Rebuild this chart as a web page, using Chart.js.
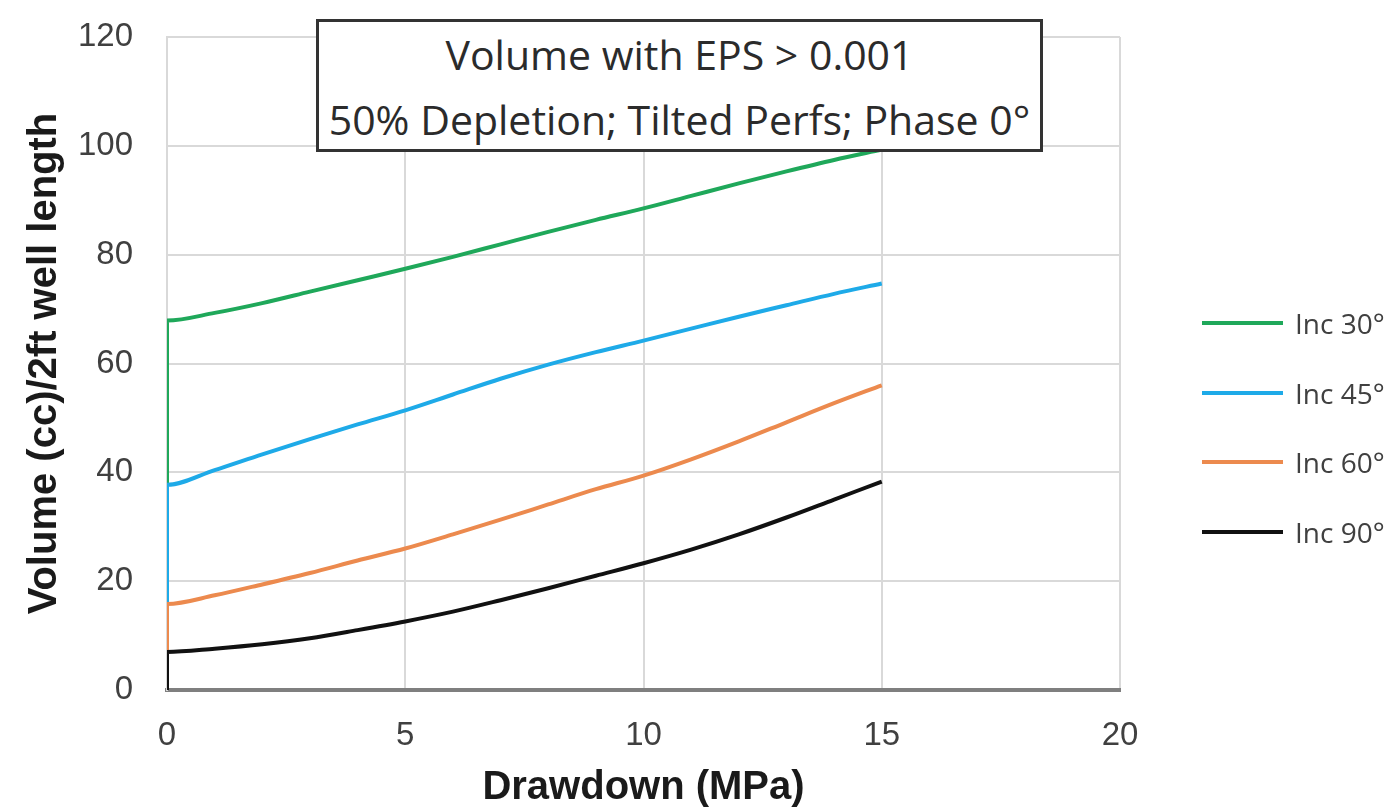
<!DOCTYPE html>
<html>
<head>
<meta charset="utf-8">
<title>Volume with EPS &gt; 0.001</title>
<script src="https://cdn.jsdelivr.net/npm/chart.js@4.4.1/dist/chart.umd.min.js"></script>
<style>
    body { margin: 0; background: #fff; }
    #wrap { position: relative; width: 1399px; height: 810px; }
    #titleBox {
        position: absolute; left: 316px; top: 19px; width: 727px; height: 133px;
        box-sizing: border-box; border: 3px solid #333; background: #fff;
        font-family: "Open Sans", sans-serif; font-size: 41px; color: #2b2b2b;
        text-align: center; line-height: 65px;
    }
    #legend { position: absolute; left: 1202px; top: 288px; }
    .item { display: flex; align-items: center; height: 69.7px; }
    .swatch { width: 81px; height: 4px; margin-right: 12px; }
    .label { font-family: "Open Sans", sans-serif; font-size: 28px; color: #404040; line-height: 1; }
</style>
</head>
<body>
<div id="wrap">
    <canvas id="volumeChart" width="1399" height="810"></canvas>
    <div id="titleBox">
        <div>Volume with EPS &gt; 0.001</div>
        <div>50% Depletion; Tilted Perfs; Phase 0°</div>
    </div>
    <div id="legend"></div>
</div>
<script>
"use strict";

// drawdown (MPa); every curve starts from the origin, hence the doubled 0
const drawdown = [0, 0, 1, 2, 3, 4, 5, 6, 7, 8, 9, 10, 11, 12, 13, 14, 15];
const inc30 = [0, 67.9, 69.3, 71.1, 73.2, 75.3, 77.4, 79.6, 81.9, 84.2, 86.4, 88.5, 90.8, 93.1, 95.3, 97.4, 99.3];
const inc45 = [0, 37.7, 40.4, 43.3, 46.1, 48.8, 51.4, 54.3, 57.2, 59.8, 62.1, 64.2, 66.4, 68.6, 70.7, 72.8, 74.7];
const inc60 = [0, 15.8, 17.4, 19.4, 21.5, 23.8, 26.0, 28.6, 31.3, 34.1, 36.9, 39.4, 42.4, 45.7, 49.2, 52.7, 56.0];
const inc90 = [0, 7.0, 7.6, 8.4, 9.5, 11.0, 12.6, 14.4, 16.5, 18.7, 21.0, 23.3, 25.8, 28.6, 31.7, 35.0, 38.3];

const seriesLabels = ['Inc 30°', 'Inc 45°', 'Inc 60°', 'Inc 90°'];
const seriesColors = ['#1fa85a', '#1eaae8', '#ec8a4e', '#111111'];
const xTicks = [0, 5, 10, 15, 20];
const yTicks = [0, 20, 40, 60, 80, 100, 120];

const tickFont = { family: 'Arial, "Liberation Sans", sans-serif', size: 33 };
const titleFont = { family: 'Arial, "Liberation Sans", sans-serif', size: 40, weight: 'bold' };

function toPoints(values) {
    return values.map((v, i) => ({ x: drawdown[i], y: v }));
}

const allSeries = [inc30, inc45, inc60, inc90];
const datasets = allSeries.map((values, i) => ({
    label: seriesLabels[i],
    data: toPoints(values),
    borderColor: seriesColors[i],
    backgroundColor: seriesColors[i],
    borderWidth: 4,
    pointRadius: 0,
    cubicInterpolationMode: 'monotone',
    fill: false,
    //later series sit on top (black over orange over blue over green)
    order: allSeries.length - i
}));

const ctx = document.getElementById('volumeChart').getContext('2d');
const volumeChart = new Chart(ctx, {
    type: 'line',
    data: { datasets: datasets },
    options: {
        responsive: false,
        animation: false,
        layout: { padding: { left: 0, right: 279, top: 37, bottom: 0 } },
        plugins: {
            legend: { display: false },
            tooltip: { enabled: false }
        },
        elements: { line: { borderJoinStyle: 'round' } },
        scales: {
            x: {
                type: 'linear',
                min: 0,
                max: 20,
                afterBuildTicks: (scale) => { scale.ticks = xTicks.map(v => ({ value: v })); },
                afterFit: (scale) => { scale.height = 120; },
                ticks: { font: tickFont, color: '#404040', padding: 26, maxRotation: 0 },
                grid: { color: '#d9d9d9', lineWidth: 2, drawTicks: false },
                border: { color: '#7f7f7f', width: 4 },
                title: {
                    display: true,
                    text: 'Drawdown (MPa)',
                    font: Object.assign({ lineHeight: 1 }, titleFont),
                    color: '#1a1a1a',
                    padding: { top: 0, bottom: 2 }
                }
            },
            y: {
                type: 'linear',
                min: 0,
                max: 120,
                afterBuildTicks: (scale) => { scale.ticks = yTicks.map(v => ({ value: v })); },
                afterFit: (scale) => {
                    scale.width = 167;
                    //tick padding is horizontal here, don't let it push the plot down
                    scale.paddingTop = 0;
                    scale.paddingBottom = 0;
                },
                ticks: { font: tickFont, color: '#404040', padding: 34 },
                grid: { color: '#d9d9d9', lineWidth: 2, drawTicks: false },
                border: { color: '#d9d9d9', width: 2 },
                title: {
                    display: true,
                    text: 'Volume (cc)/2ft well length',
                    font: titleFont,
                    color: '#1a1a1a',
                    padding: { top: 21, bottom: 0 }
                }
            }
        }
    }
});

//legend in the order of the series, off to the right of the plot
const legendEl = document.getElementById('legend');
volumeChart.data.datasets.forEach((ds) => {
    const item = document.createElement('div');
    item.className = 'item';
    const swatch = document.createElement('span');
    swatch.className = 'swatch';
    swatch.style.background = ds.borderColor;
    const label = document.createElement('span');
    label.className = 'label';
    label.textContent = ds.label;
    item.appendChild(swatch);
    item.appendChild(label);
    legendEl.appendChild(item);
});
</script>
</body>
</html>
